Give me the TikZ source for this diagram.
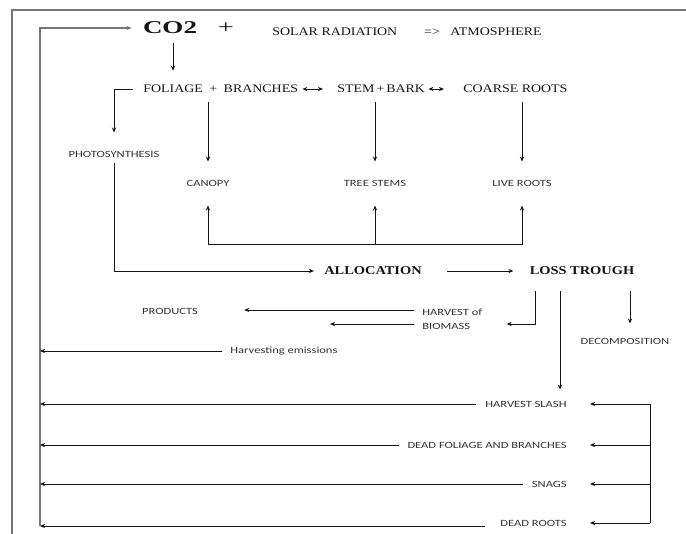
\documentclass[tikz,border=0pt]{standalone}
\usepackage{fontspec}
\setmainfont[FakeStretch=1.2]{Liberation Serif}
\newfontfamily\cofont[FakeStretch=1.5]{Liberation Serif}
\newfontfamily\notefont[FakeStretch=1.32]{Carlito}
\usetikzlibrary{arrows.meta}

\definecolor{ink}{HTML}{141414}
\definecolor{notegray}{HTML}{333333}
\definecolor{framegray}{HTML}{767676}

\begin{document}
\begin{tikzpicture}[%
    x=1pt, y=-1pt,
    >={Stealth[length=5pt,width=4.2pt]},
    line width=0.8pt,
    color=ink,
    every node/.style={inner sep=0pt},
    heading/.style={font=\fontsize{11.6pt}{14pt}\selectfont},
    bighead/.style={font=\fontsize{12pt}{14pt}\selectfont\bfseries},
    note/.style={font=\notefont\fontsize{9.5pt}{14pt}\selectfont, text=notegray},
    feedback/.style={draw=framegray, line width=1.5pt}
  ]

  \useasboundingbox (0,0) rectangle (686,534);
  \draw[framegray, line width=1.6pt] (12,534) -- (12,10) -- (686,10);

  % top line
  \node[font=\cofont\fontsize{18pt}{20pt}\selectfont\bfseries] (co2) at (170,28) {CO2};
  \node[font=\cofont\fontsize{19pt}{20pt}\selectfont] (plus) at (226,28) {+};
  \node[heading, anchor=west] (solar) at (272,32) {SOLAR RADIATION};
  \node[heading] (yields) at (432,32) {=>};
  \node[heading, anchor=west] (atmos) at (450,32) {ATMOSPHERE};

  % tree parts
  \node[heading, anchor=west] (foliage) at (143,89) {FOLIAGE\hspace{3pt} + \hspace{3pt}BRANCHES};
  \node[heading, anchor=west] (stem) at (337,89) {STEM{\kern2pt}+{\kern2pt}BARK};
  \node[heading, anchor=west] (coarse) at (463,89) {COARSE ROOTS};
  \node[note] (photo) at (114,154) {PHOTOSYNTHESIS};
  \node[note] (canopy) at (208,183) {CANOPY};
  \node[note] (treestems) at (375,183) {TREE STEMS};
  \node[note] (liveroots) at (522,183) {LIVE ROOTS};
  \node[bighead] (alloc) at (373,271) {ALLOCATION};
  \node[bighead] (loss) at (582,271) {LOSS TROUGH};

  % losses
  \node[note] (products) at (170,311) {PRODUCTS};
  \node[note, anchor=west, align=left] (harvest) at (422,319) {HARVEST of\\BIOMASS};
  \node[note] (decomp) at (625,341) {DECOMPOSITION};
  \node[note, anchor=west] (emissions) at (230,351) {Harvesting emissions};
  \node[note, anchor=east] (slash) at (567,404) {HARVEST SLASH};
  \node[note, anchor=east] (deadfol) at (567,445) {DEAD FOLIAGE AND BRANCHES};
  \node[note, anchor=east] (snags) at (567,484) {SNAGS};
  \node[note, anchor=east] (deadroots) at (567,523) {DEAD ROOTS};

  \coordinate (fbtop) at (40,28);
  \coordinate (fbbot) at (40,526);
  \coordinate (fork) at (375,244);
  \coordinate (rside) at (650,0);
  \coordinate (biomassout) at (330,324);

  % connectors
  \draw[feedback, ->] (fbbot) -- (fbtop) -- ([xshift=-11pt]co2.west);
  \draw[->, shorten <=9pt, shorten >=14pt] ([xshift=3pt]co2.south) -- ([xshift=3pt]co2.south |- foliage.north);
  \draw[<->, shorten <=4pt, shorten >=14pt] (foliage.east) -- (stem.west);
  \draw[<->, shorten <=3pt, shorten >=19pt] (stem.east) -- (coarse.west);
  \draw[->, shorten >=18pt] ([xshift=-10pt]foliage.west) -| (photo.north);
  \draw[->, shorten <=5pt, shorten >=10pt] (photo.south) |- (alloc.west);

  \draw[->, shorten <=9pt, shorten >=18pt] (foliage.south -| canopy) -- (canopy.north);
  \draw[->, shorten <=9pt, shorten >=18pt] (stem.south -| treestems) -- (treestems.north);
  \draw[->, shorten <=9pt, shorten >=18pt] (coarse.south -| liveroots) -- (liveroots.north);
  \draw[->, shorten >=19pt] (fork) -| (canopy.south);
  \draw[->, shorten >=19pt] (fork) -- (treestems.south);
  \draw[->, shorten >=19pt] (fork) -| (liveroots.south);

  \draw[->, shorten <=25pt, shorten >=16pt] (alloc.east) -- (loss.west);
  \draw[->, shorten <=16pt, shorten >=24pt] ([xshift=-47pt]loss.south) |- ([yshift=-5pt]harvest.east);
  \draw[->, shorten <=16pt, shorten >=11pt] ([xshift=-22pt]loss.south) -- ([xshift=-22pt]loss.south |- slash.north);
  \draw[->, shorten <=16pt, shorten >=14pt] ([xshift=48pt]loss.south) -- ([xshift=48pt]loss.south |- decomp.north);
  \draw[->, shorten <=8pt, shorten >=46pt] ([yshift=9pt]harvest.west) -- ([yshift=9pt]harvest.west -| products.east);
  \draw[->, shorten <=8pt] ([yshift=-5pt]harvest.west) -- (biomassout);

  \draw[->, shorten <=8pt] (emissions.west) -- (emissions.west -| fbbot);
  \draw[->, shorten <=9pt] (slash.west) -- (slash.west -| fbbot);
  \draw[->, shorten <=8pt] (deadfol.west) -- (deadfol.west -| fbbot);
  \draw[->, shorten <=9pt] (snags.west) -- (snags.west -| fbbot);
  \draw[->, shorten <=15pt] ([yshift=-3pt]deadroots.west) -- ([yshift=-3pt]deadroots.west -| fbbot);

  \draw (slash.east -| rside) -- (deadroots.east -| rside);
  \draw[->, shorten >=23pt] (slash.east -| rside) -- (slash.east);
  \draw[->, shorten >=23pt] (deadfol.east -| rside) -- (deadfol.east);
  \draw[->, shorten >=23pt] (snags.east -| rside) -- (snags.east);
  \draw[->, shorten >=23pt] (deadroots.east -| rside) -- (deadroots.east);
\end{tikzpicture}
\end{document}
